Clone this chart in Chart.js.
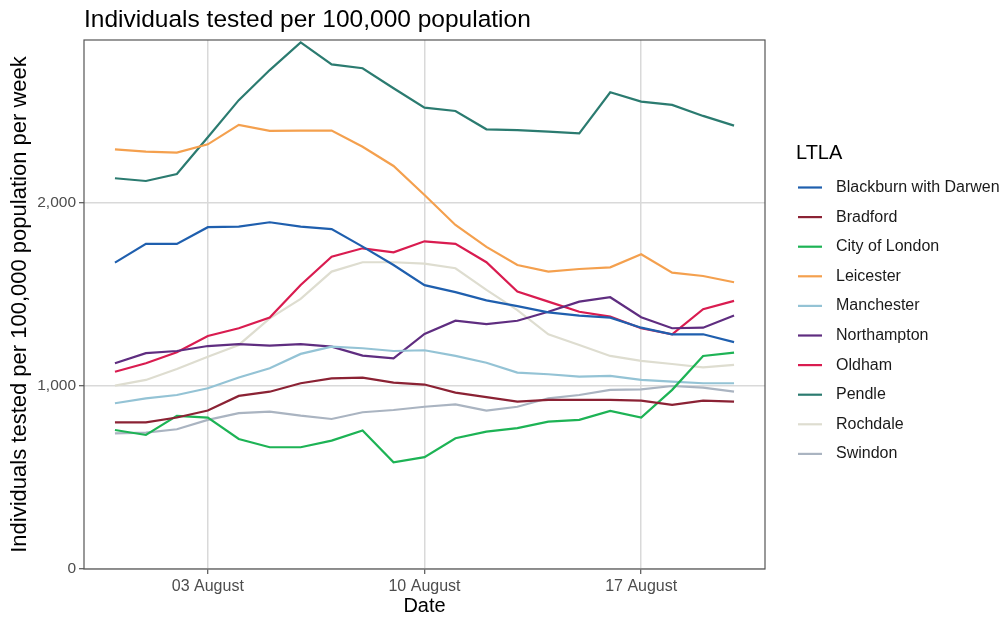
<!DOCTYPE html>
<html>
<head>
<meta charset="utf-8">
<script src="https://cdn.jsdelivr.net/npm/chart.js@4"></script>
<style>
  html, body { margin: 0; padding: 0; background: #fff; }
  #wrap { width: 1002px; height: 621px; }
</style>
</head>
<body>
<div id="wrap"><canvas id="chartCanvas" width="1002" height="621"></canvas></div>
<script>
// data
const dates = [
  "2020-07-31", "2020-08-01", "2020-08-02", "2020-08-03", "2020-08-04", "2020-08-05", "2020-08-06",
  "2020-08-07", "2020-08-08", "2020-08-09", "2020-08-10", "2020-08-11", "2020-08-12", "2020-08-13",
  "2020-08-14", "2020-08-15", "2020-08-16", "2020-08-17", "2020-08-18", "2020-08-19", "2020-08-20"
];

const blackburn = [1671, 1773, 1773, 1864, 1867, 1891, 1867, 1854, 1758, 1658, 1548, 1510, 1465, 1434, 1400, 1382, 1371, 1316, 1280, 1280, 1237];
const bradford = [800, 800, 826, 864, 944, 967, 1013, 1040, 1044, 1016, 1006, 962, 937, 913, 922, 922, 922, 918, 895, 918, 913];
const cityOfLondon = [758, 731, 835, 826, 709, 664, 664, 700, 755, 582, 610, 713, 749, 768, 804, 813, 862, 826, 977, 1162, 1180];
const leicester = [2289, 2276, 2271, 2316, 2422, 2389, 2391, 2391, 2303, 2198, 2040, 1876, 1757, 1658, 1622, 1636, 1645, 1716, 1616, 1598, 1564];
const manchester = [904, 931, 949, 986, 1044, 1095, 1173, 1213, 1204, 1189, 1193, 1162, 1125, 1071, 1062, 1049, 1053, 1031, 1022, 1013, 1013];
const northampton = [1122, 1177, 1189, 1216, 1226, 1218, 1226, 1213, 1164, 1149, 1282, 1354, 1336, 1354, 1403, 1458, 1482, 1373, 1313, 1316, 1382];
const oldham = [1076, 1122, 1182, 1271, 1313, 1371, 1549, 1703, 1749, 1727, 1787, 1773, 1673, 1513, 1458, 1403, 1376, 1313, 1280, 1417, 1462];
const pendle = [2131, 2116, 2154, 2355, 2557, 2721, 2872, 2752, 2731, 2622, 2516, 2498, 2398, 2394, 2385, 2376, 2600, 2549, 2531, 2471, 2418];
const rochdale = [1000, 1031, 1091, 1158, 1222, 1367, 1473, 1622, 1673, 1673, 1665, 1640, 1522, 1412, 1280, 1222, 1162, 1135, 1118, 1100, 1113];
const swindon = [740, 744, 762, 813, 850, 858, 836, 818, 855, 867, 885, 898, 864, 885, 931, 949, 977, 980, 998, 989, 967];

const areas = ["Blackburn with Darwen", "Bradford", "City of London", "Leicester", "Manchester",
  "Northampton", "Oldham", "Pendle", "Rochdale", "Swindon"];
const series = [blackburn, bradford, cityOfLondon, leicester, manchester,
  northampton, oldham, pendle, rochdale, swindon];
const colours = ["#1f5fae", "#8b2234", "#1db355", "#f4a04e", "#94c3d5",
  "#5f2d80", "#d91c50", "#2b7b70", "#deddd0", "#aab4c1"];

const xTickDates = ["2020-08-03", "2020-08-10", "2020-08-17"];
const xTickLabels = ["03 August", "10 August", "17 August"];
const yTicks = [0, 1000, 2000];

const FONT = "'Liberation Sans', Arial, sans-serif";

// days since 31 July
const base = Date.UTC(2020, 6, 31);
const toDay = (s) => (Date.parse(s + "T00:00:00Z") - base) / 86400000;
const days = dates.map(toDay);
const tickDays = xTickDates.map(toDay);

const datasets = areas.map((name, i) => ({
  label: name,
  data: series[i].map((v, j) => ({ x: days[j], y: v })),
  borderColor: colours[i],
  backgroundColor: colours[i],
  borderWidth: 2.2,
  pointRadius: 0,
  tension: 0,
  fill: false
}));

// title, panel border and legend, drawn ggplot-style
const decor = {
  id: "decor",
  afterDatasetsDraw(chart) {
    const { ctx, chartArea: a } = chart;
    ctx.save();
    ctx.strokeStyle = "#555";
    ctx.lineWidth = 1.2;
    ctx.strokeRect(a.left, a.top, a.right - a.left, a.bottom - a.top);
    ctx.restore();
  },
  afterDraw(chart) {
    const { ctx, chartArea: a } = chart;
    ctx.save();
    ctx.fillStyle = "#000";
    ctx.textAlign = "left";
    ctx.textBaseline = "alphabetic";
    ctx.font = "24.5px " + FONT;
    ctx.fillText("Individuals tested per 100,000 population", a.left, 27);

    // legend
    ctx.textBaseline = "middle";
    ctx.font = "20px " + FONT;
    ctx.fillText("LTLA", 796, 153);
    ctx.font = "16px " + FONT;
    chart.data.datasets.forEach((ds, i) => {
      const y = 187.5 + i * 29.6;
      ctx.strokeStyle = ds.borderColor;
      ctx.lineWidth = 2.2;
      ctx.beginPath();
      ctx.moveTo(798, y);
      ctx.lineTo(822, y);
      ctx.stroke();
      ctx.fillStyle = "#1a1a1a";
      ctx.fillText(ds.label, 836, y);
    });
    ctx.restore();
  }
};

const ctx = document.getElementById("chartCanvas").getContext("2d");
new Chart(ctx, {
  type: "line",
  data: { datasets },
  options: {
    responsive: false,
    animation: false,
    layout: { padding: { left: 0, top: 40, right: 237, bottom: 0 } },
    plugins: {
      legend: { display: false },
      tooltip: { enabled: false }
    },
    scales: {
      x: {
        type: "linear",
        min: days[0] - 1,
        max: days[days.length - 1] + 1,
        afterBuildTicks: (scale) => { scale.ticks = tickDays.map((v) => ({ value: v })); },
        afterFit: (scale) => { scale.height = 52; },
        ticks: {
          autoSkip: false,
          maxRotation: 0,
          padding: 3,
          color: "#4d4d4d",
          font: { family: FONT, size: 16 },
          callback: (v) => xTickLabels[tickDays.indexOf(v)]
        },
        grid: { color: "#d9d9d9", lineWidth: 1.5, tickLength: 5, tickColor: "#333", tickWidth: 1 },
        border: { display: false },
        title: {
          display: true,
          text: "Date",
          color: "#000",
          font: { family: FONT, size: 20 },
          padding: { top: 0, bottom: 3 }
        }
      },
      y: {
        min: 0,
        max: 2885,
        afterBuildTicks: (scale) => { scale.ticks = yTicks.map((v) => ({ value: v })); },
        afterFit: (scale) => { scale.width = 84; },
        ticks: {
          padding: 3,
          color: "#4d4d4d",
          font: { family: FONT, size: 15.5 },
          callback: (v) => v.toLocaleString("en-US")
        },
        grid: { color: "#d9d9d9", lineWidth: 1.5, tickLength: 5, tickColor: "#333", tickWidth: 1 },
        border: { display: false },
        title: {
          display: true,
          text: "Individuals tested per 100,000 population per week",
          color: "#000",
          font: { family: FONT, size: 22 },
          padding: { top: 7, bottom: 0 }
        }
      }
    }
  },
  plugins: [decor]
});
</script>
</body>
</html>
